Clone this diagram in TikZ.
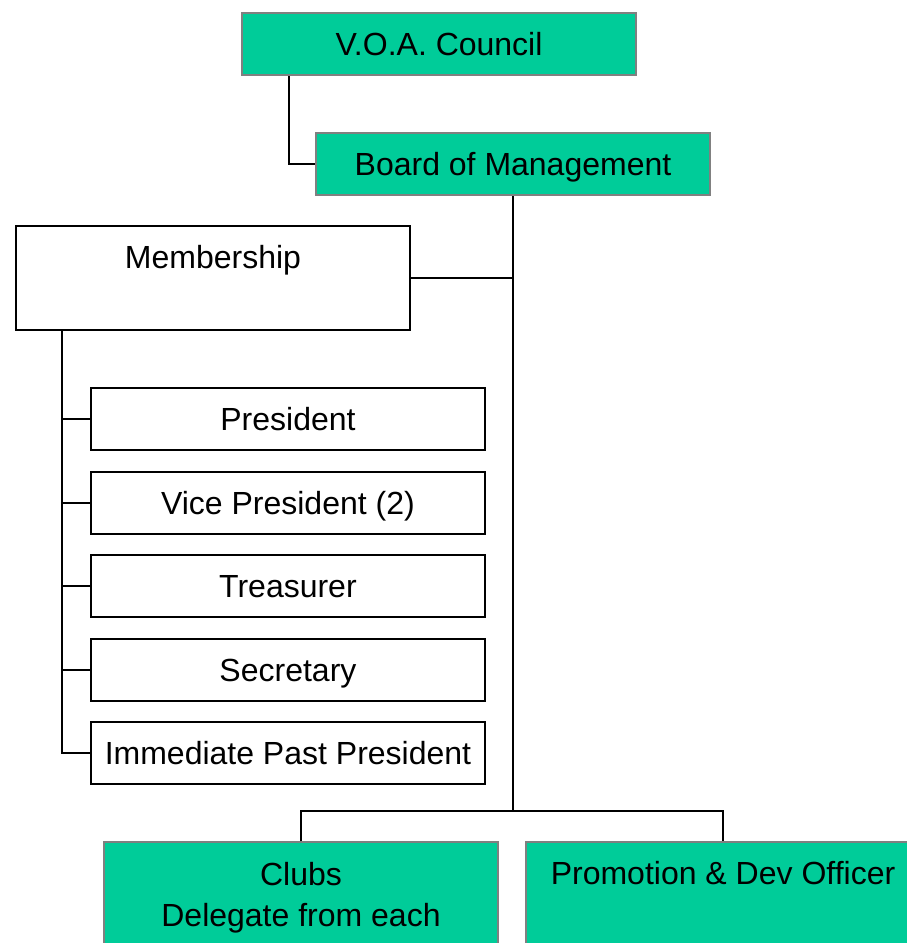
\documentclass[tikz,border=0pt]{standalone}
\usepackage{fontspec}
\setmainfont{Liberation Sans}
\definecolor{boxgreen}{HTML}{00CC99}
\definecolor{boxgray}{HTML}{808080}
\tikzset{
  orgbox/.style={rectangle, inner sep=0pt, minimum width=394pt,
    text height=42.5pt, text depth=19.5pt, anchor=north west,
    font=\fontsize{32}{41}\selectfont},
  greenbox/.style={orgbox, fill=boxgreen, draw=boxgray, line width=2pt},
  whitebox/.style={orgbox, fill=white, draw=black, line width=1.9pt},
  conn/.style={draw=black, line width=1.9pt}
}
\begin{document}
\begin{tikzpicture}[x=1pt,y=-1pt]
\useasboundingbox (0,0) rectangle (907,943);
\clip (0,0) rectangle (907,943);
\fill[white] (0,0) rectangle (907,943);
% nodes
\node[greenbox] (council) at (241,12) {V.O.A. Council};
\node[greenbox] (board) at (315,132) {Board of Management};
\node[whitebox, text depth=61.5pt] (member) at (15,225) {Membership};
\node[whitebox] (pres) at (90,387) {President};
\node[whitebox] (vp) at (90,471) {Vice President (2)};
\node[whitebox] (treas) at (90,554) {Treasurer};
\node[whitebox] (sec) at (90,638) {Secretary};
\node[whitebox] (ipp) at (90,721) {Immediate Past President};
\node[greenbox, text height=84pt, text depth=25pt] (clubs) at (103,841)
  {\parbox[b]{390pt}{\centering Clubs\\Delegate from each}};
\node[greenbox, text depth=66.5pt] (promo) at (525,841) {Promotion \& Dev Officer};
\coordinate (junc) at (board.south |- 0,811);
% connectors
\draw[conn] (council.south west) ++(48,0) |- (board.west);
\draw[conn] (board.south) -- (junc);
\draw[conn] (member.east) -- (member.east -| board.south);
\draw[conn] (member.south west) ++(47,0) |- (ipp.west);
\foreach \n in {pres,vp,treas,sec}{
  \draw[conn] (\n.west) -- ++(-27,0);
}
\draw[conn] (clubs.north) |- (junc) -| (promo.north);
\end{tikzpicture}
\end{document}
